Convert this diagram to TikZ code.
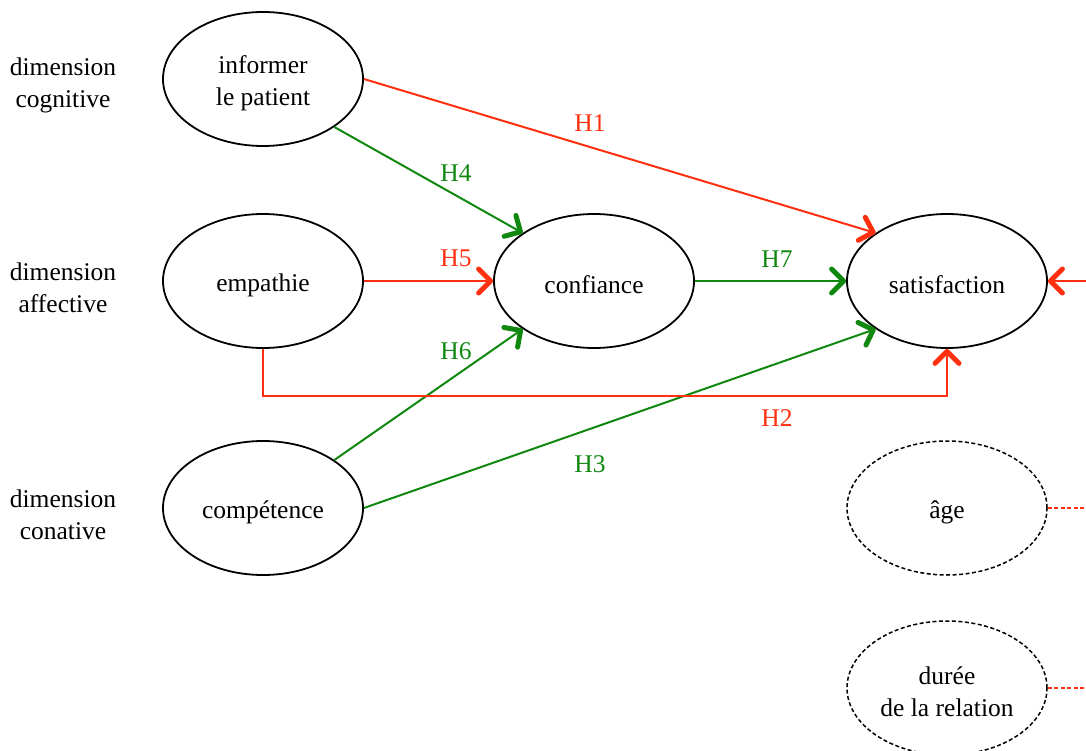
\documentclass[tikz,border=0pt]{standalone}
\usepackage{fontspec}
\setmainfont{Liberation Serif}
\usetikzlibrary{arrows.meta,shapes.geometric}
\definecolor{hred}{RGB}{255,48,16}
\definecolor{hgreen}{RGB}{16,136,16}
\tikzset{
  construct/.style={ellipse,draw=black,line width=1.8pt,minimum width=200pt,minimum height=134pt,inner sep=0pt},
  control/.style={construct,dash pattern=on 4pt off 2.5pt,line width=1.5pt},
  ctext/.style={align=center,font=\fontsize{25.5}{32}\selectfont,yshift=-4pt,inner sep=0pt},
  dimlabel/.style={align=center,font=\fontsize{25.5}{32}\selectfont},
  hlabel/.style={font=\fontsize{25.5}{32}\selectfont},
  tip/.style={-{Straight Barb[length=12pt,width=24pt,line width=5pt 0,round]}},
  redlink/.style={hred,line width=2pt,tip},
  greenlink/.style={hgreen,line width=2pt,tip},
  ctrllink/.style={hred,line width=1.6pt,dash pattern=on 4pt off 2.5pt}
}
\begin{document}
\begin{tikzpicture}[x=1pt,y=-1pt]
\useasboundingbox (0,0) rectangle (1086,751);
% dimension labels
\node[dimlabel] (d1) at (63,85) {dimension\\cognitive};
\node[dimlabel] (d2) at (63,288) {dimension\\affective};
\node[dimlabel] (d3) at (63,515) {dimension\\conative};
% constructs
\node[construct,label={[ctext]center:{informer\\le patient}}] (inf) at (263,79) {};
\node[construct,label={[ctext]center:{empathie}}] (emp) at (263,281) {};
\node[construct,label={[ctext]center:{compétence}}] (comp) at (263,508) {};
\node[construct,label={[ctext]center:{confiance}}] (conf) at (594,281) {};
\node[construct,label={[ctext]center:{satisfaction}}] (sat) at (947,281) {};
\node[control,label={[ctext]center:{âge}}] (age) at (947,508) {};
\node[control,label={[ctext]center:{durée\\de la relation}}] (dur) at (947,688) {};
% free ends at the right edge
\coordinate (rin) at (1086,281);
\coordinate (rage) at (1086,508);
\coordinate (rdur) at (1086,688);
% links
\draw[redlink] (inf.east) -- (sat.north west);
\draw[greenlink] (inf.south east) -- (conf.north west);
\draw[redlink] (emp.east) -- (conf.west);
\draw[greenlink] (comp.north east) -- (conf.south west);
\draw[greenlink] (conf.east) -- (sat.west);
\draw[greenlink] (comp.east) -- (sat.south west);
\draw[redlink] (emp.south) -- ++(0,47) -| (sat.south);
\draw[redlink] (rin) -- (sat.east);
\draw[ctrllink] (age.east) -- (rage);
\draw[ctrllink] (dur.east) -- (rdur);
% hypothesis labels
\node[hlabel,text=hred] (h1) at (590,123) {H1};
\node[hlabel,text=hgreen] (h4) at (456,173) {H4};
\node[hlabel,text=hred] (h5) at (456,258) {H5};
\node[hlabel,text=hgreen] (h7) at (777,259) {H7};
\node[hlabel,text=hgreen] (h6) at (456,351) {H6};
\node[hlabel,text=hred] (h2) at (777,418) {H2};
\node[hlabel,text=hgreen] (h3) at (590,464) {H3};
\end{tikzpicture}
\end{document}
